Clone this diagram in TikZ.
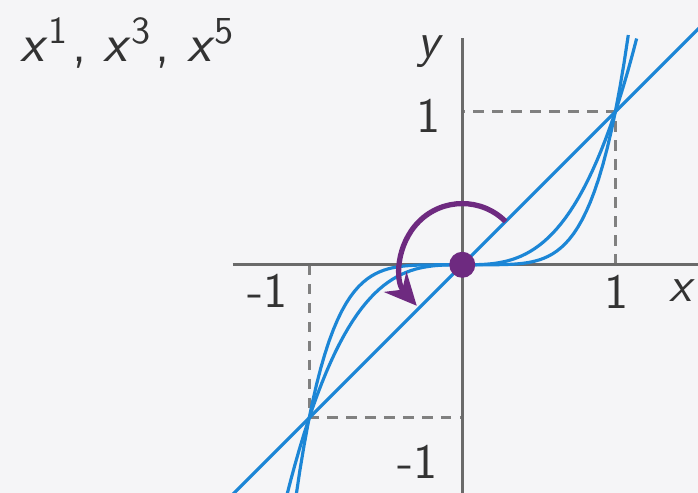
\documentclass[tikz,border=0pt]{standalone}
\usepackage{tikz}
\usetikzlibrary{arrows.meta}
\definecolor{bgGray}{HTML}{F5F5F7}
\definecolor{axisGray}{HTML}{6A6A6A}
\definecolor{curveBlue}{HTML}{1C86D6}
\definecolor{turnPurple}{HTML}{6E2A80}
\tikzset{
  axis line/.style={line width=0.75pt, draw=axisGray},
  guide line/.style={line width=0.8pt, draw=axisGray!85, dash pattern=on 3pt off 2.4pt},
  curve/.style={line width=0.9pt, draw=curveBlue},
  turn arrow/.style={-{Stealth[length=3.2mm,width=3mm]}, line width=1.5pt, draw=turnPurple},
  tick label/.style={font=\sffamily\fontsize{14}{16}\selectfont, text=black!80, inner sep=1pt}
}
\begin{document}
\begin{tikzpicture}[x=1.53cm,y=1.53cm]
  \fill[bgGray] (-3.02,-1.49) rectangle (1.54,1.73);
  \useasboundingbox (-3.02,-1.49) rectangle (1.54,1.73);
  \begin{scope}
    \clip (-3.02,-1.49) rectangle (1.54,1.73);
    % guides
    \draw[guide line] (1,0) -- (1,1) -- (0,1);
    \draw[guide line] (-1,0) -- (-1,-1) -- (0,-1);
    % axes
    \draw[axis line] (-1.5,0) -- (1.54,0);
    \draw[axis line] (0,-1.49) -- (0,1.48);
    % the three odd powers
    \draw[curve] (-1.52,-1.52) -- (1.56,1.56);
    \draw[curve, domain=-1.15:1.14, samples=80] plot (\x,{\x*\x*\x});
    \draw[curve, domain=-1.09:1.085, samples=80] plot (\x,{\x*\x*\x*\x*\x});
  \end{scope}
  % symmetry about the origin
  \coordinate (O) at (0,0);
  \draw[turn arrow] (45:0.4) arc[start angle=45, end angle=222, radius=0.4];
  \fill[turnPurple] (O) circle[radius=0.085];
  % labels
  \node[font=\sffamily\fontsize{15.5}{18}\selectfont, text=black!80, anchor=west, inner sep=0pt] (title) at (-2.89,1.45)
    {\textit{x}\textsuperscript{1}\kern1pt, \textit{x}\textsuperscript{3}\kern1pt, \textit{x}\textsuperscript{5}};
  \node[tick label] (ylab) at (-0.21,1.39) {\textit{y}};
  \node[tick label] (yone) at (-0.22,0.97) {1};
  \node[tick label] (ymone) at (-0.29,-1.29) {-1};
  \node[tick label] (xmone) at (-1.27,-0.17) {-1};
  \node[tick label] (xone) at (1.01,-0.18) {1};
  \node[tick label] (xlab) at (1.44,-0.17) {\textit{x}};
\end{tikzpicture}
\end{document}
